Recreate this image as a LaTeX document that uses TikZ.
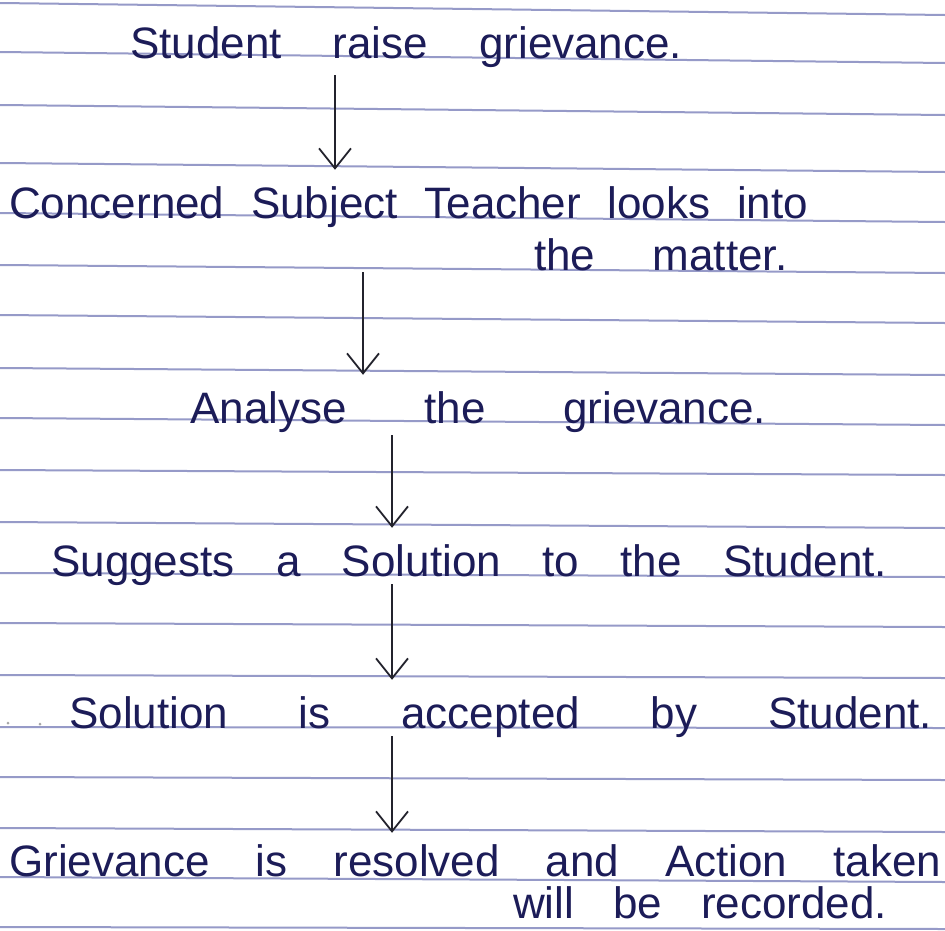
\documentclass[tikz,border=0pt]{standalone}
\usepackage{fontspec}
\setmainfont{Liberation Sans}
\usetikzlibrary{arrows.meta}

\definecolor{ruleblue}{RGB}{150,154,200}
\definecolor{ink}{RGB}{28,28,88}
\definecolor{pencil}{RGB}{35,35,45}

\newcommand{\hand}[2]{\makebox[#1pt][s]{#2}}

\begin{document}
\begin{tikzpicture}[x=1pt,y=-1pt,
  line/.style={text=ink,inner sep=0pt,anchor=base west,text height=32pt,text depth=8pt,
    font=\fontsize{44}{50}\selectfont},
  flow/.style={pencil,line width=1.8pt,-{Straight Barb[length=20pt,width=32pt,line width=1.8pt]},
    shorten >=16pt}]

\useasboundingbox (0,0) rectangle (945,930);
\fill[white] (0,0) rectangle (945,930);

% ruled paper
\foreach \l/\r in {3/15,52/63,105/115,163/172,213/222,265/273,315/323,368/375,418/425,
  470/475,522/528,573/577,623/627,675/678,727/728,777/780,828/832,877/882,927/929}
  \draw[ruleblue,line width=2pt] (0,\l) -- (945,\r);

% arrow columns
\coordinate (c1) at (335,0);
\coordinate (c2) at (363,0);
\coordinate (c3) at (392,0);

\node[line] (st1) at (130,58) {\hand{552}{Student raise grievance.}};
\node[line] (st2) at (9,218) {\hand{799}{Concerned Subject Teacher looks into}};
\node[line] (st2b) at (534,270) {\hand{253}{the matter.}};
\node[line] (st3) at (190,423) {\hand{576}{Analyse the grievance.}};
\node[line] (st4) at (51,576) {\hand{836}{Suggests a Solution to the Student.}};
\node[line] (st5) at (69,728) {\hand{863}{Solution is accepted by Student.}};
\node[line] (st6) at (9,876) {\hand{932}{Grievance is resolved and Action taken}};
\node[line] (st6b) at (513,918) {\hand{374}{will be recorded.}};

\fill[gray!70] (8,723) circle (1.5pt);
\fill[gray!70] (40,724) circle (1.5pt);

\draw[flow,shorten <=9pt] (st1.south -| c1) -- (st2.north -| c1);
\draw[flow,shorten <=46pt] (st2.south -| c2) -- (st3.north -| c2);
\draw[flow,shorten <=4pt] (st3.south -| c3) -- (st4.north -| c3);
\draw[flow] (st4.south -| c3) -- (st5.north -| c3);
\draw[flow,shorten >=11pt] (st5.south -| c3) -- (st6.north -| c3);
\end{tikzpicture}
\end{document}
